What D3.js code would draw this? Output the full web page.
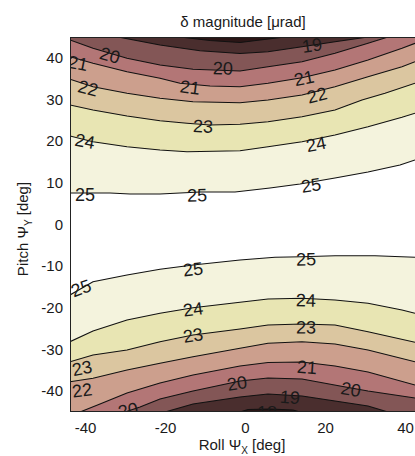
<!DOCTYPE html>
<html>
<head>
<meta charset="utf-8">
<script src="https://cdn.jsdelivr.net/npm/d3@7"></script>
<style>
  body { margin: 0; background: #fff; }
  text { font-family: "Liberation Sans", Arial, sans-serif; fill: #1a1a1a; }
</style>
</head>
<body>
<script>
// contour lines, [roll deg, pitch deg]
// upper half (values fall towards the top edge)
var top18 = [[-16.25,45],[-8.75,44.16],[-1.25,43.68],[3.75,44.28],[10,45]];
var top19 = [[-31.75,45],[-21.25,43.08],[-11.25,41.71],[-1.25,41.04],[5.75,41.47],[14.25,42.67],[22.5,43.87],[30.75,45]];
var top20 = [[-43.75,44.28],[-38,42.29],[-29.5,39.88],[-21.25,38.28],[-13,37.25],[-1.25,36.84],[5.75,37.87],[14.25,39.07],[22.5,41.08],[30.75,43.48],[35.75,45]];
var top21 = [[-43.75,40.27],[-38,38.69],[-29.5,36.67],[-21.25,35.09],[-16.25,33.89],[-8.75,33.24],[-1.25,33.07],[5.75,33.89],[14.25,35.23],[22.5,37.08],[30.75,39.48],[39.25,42.29],[42.5,43.49]];
var top22 = [[-43.75,34.85],[-38,33.07],[-29.5,31.49],[-21.25,30.29],[-13,29.47],[-1.25,29.23],[5.75,29.88],[14.25,31.08],[22.5,33.07],[30.75,35.47],[39.25,37.87],[42.5,39.07]];
var top23 = [[-43.75,28.68],[-38,27.48],[-29.5,26.04],[-21.25,24.91],[-14.5,24.29],[-8.75,23.88],[-1.25,24.05],[5.75,24.67],[14.25,25.87],[22.5,27.48],[29.25,29.88],[35,31.49],[42.5,33.89]];
var top24 = [[-43.75,21.24],[-38,19.87],[-29.5,18.67],[-21.25,17.88],[-14.5,17.47],[-1.25,17.71],[5.75,18.67],[14.25,19.87],[22.5,21.48],[30.75,23.47],[39.25,25.73],[42.5,26.69]];
var top25 = [[-43.75,7.56],[-33.75,7.56],[-28.75,7.32],[-21.25,7.32],[-11.25,7.8],[-2.5,7.8],[6.25,8.76],[13.75,9.72],[22.5,11.16],[30.75,12.6],[38.75,14.28],[42.5,15.5]];

// lower half (values fall towards the bottom edge)
var bot18 = [[-1.25,-45],[0.75,-44.4],[6.25,-44.28],[12,-44.52],[13.75,-45]];
var bot19 = [[-20,-45],[-13,-43.08],[-1.25,-41.4],[5.75,-40.68],[14.25,-41.16],[22.5,-42.36],[30.75,-43.56],[35.75,-45]];
var bot20 = [[-30,-45],[-26.25,-43.8],[-21.25,-41.88],[-13,-39.96],[-1.25,-37.56],[5.75,-36.84],[14.25,-37.08],[23.75,-38.76],[30.75,-39.96],[42.5,-41.64]];
var bot21 = [[-41.25,-45],[-36.25,-43.08],[-29.5,-40.44],[-21.25,-38.04],[-13,-36.12],[-1.25,-33.96],[5.75,-33.12],[14.25,-33],[22.5,-33.96],[30.75,-35.4],[42.5,-38.52]];
var bot22 = [[-43.75,-37.73],[-38,-36.91],[-29.5,-34.92],[-21.25,-33.31],[-13,-31.73],[-1.25,-29.71],[5.75,-28.51],[14.25,-28.13],[22.5,-28.68],[30.75,-30.12],[42.5,-32.93]];
var bot23 = [[-43.75,-32.93],[-38,-31.32],[-29.5,-30.12],[-21.25,-28.13],[-13,-26.52],[-1.25,-25.08],[5.75,-24.12],[14.25,-23.88],[22.5,-24.12],[30.75,-25.73],[42.5,-28.27]];
var bot24 = [[-43.75,-28.13],[-38,-25.56],[-29.5,-22.92],[-21.25,-21.31],[-13,-19.97],[-1.25,-18.67],[5.75,-17.88],[14.25,-17.71],[22.5,-18.12],[30.75,-18.91],[39.25,-20.52],[42.5,-21.31]];
var bot25 = [[-43.75,-16.92],[-38,-13.73],[-29.5,-12.12],[-21.25,-10.75],[-13,-9.72],[-1.25,-8.52],[7.5,-7.87],[14.25,-7.73],[22.5,-7.49],[32.5,-7.49],[42.5,-7.87]];

var levels = [18, 19, 20, 21, 22, 23, 24, 25];

// contour labels [value, roll, pitch]
var contourLabels = [
  [19, 16.75, 43.08], [20, -33.75, 40.68], [20, -5.5, 37.56], [21, -41.75, 38.76],
  [21, -13.75, 33.0], [21, 14.75, 35.16], [22, -39.25, 32.76], [22, 18, 31.08],
  [23, -10.5, 23.64], [24, -40, 20.04], [24, 17.75, 19.32],
  [25, -40, 7.08], [25, -12, 7.08], [25, 16.5, 9.48],
  [25, -41, -15.24], [25, -13, -10.68], [25, 15.25, -8.28],
  [24, -13, -20.28], [24, 15.25, -18.12],
  [23, -13, -26.52], [23, 15.25, -24.6], [23, -40.75, -34.44],
  [22, -40.75, -39.72], [21, 15.5, -34.2],
  [20, -2, -38.04], [20, 26.5, -39.48], [20, -29.25, -44.52],
  [19, 11.25, -41.4], [18, 5.5, -45]
];

var xTicks = [-40, -20, 0, 20, 40];
var yTicks = [-40, -30, -20, -10, 0, 10, 20, 30, 40];

// band fills: below 18, 18-19, ..., 24-25 (pink colormap)
var bandColors = ["#2b1616", "#4a2e2e", "#835656", "#b37676", "#cc9f8d", "#dbc6a0", "#e8e5b3", "#f4f3dd"];

var topLines = [top18, top19, top20, top21, top22, top23, top24, top25];
var botLines = [bot18, bot19, bot20, bot21, bot22, bot23, bot24, bot25];

var width = 415, height = 456;
var x = d3.scaleLinear().domain([-43.75, 42.5]).range([70, 415]);
var y = d3.scaleLinear().domain([-45, 45]).range([412, 37]);

var svg = d3.select("body").append("svg")
    .attr("width", width)
    .attr("height", height);

svg.append("clipPath").attr("id", "plotclip")
  .append("rect")
    .attr("x", x.range()[0]).attr("y", y.range()[1])
    .attr("width", x.range()[1] - x.range()[0])
    .attr("height", y.range()[0] - y.range()[1]);

var plot = svg.append("g").attr("clip-path", "url(#plotclip)");

plot.append("rect")
    .attr("x", x.range()[0]).attr("y", y.range()[1])
    .attr("width", x.range()[1] - x.range()[0])
    .attr("height", y.range()[0] - y.range()[1])
    .attr("fill", "#fff");

var line = d3.line()
    .x(function(d) { return x(d[0]); })
    .y(function(d) { return y(d[1]); });

// close a contour against the top or bottom edge
function band(pts, edge) {
  var p = pts.slice();
  p.push([pts[pts.length - 1][0], edge]);
  p.push([pts[0][0], edge]);
  return line(p) + "Z";
}

// largest region first so smaller ones sit on top
for (var i = levels.length - 1; i >= 0; i--) {
  plot.append("path").attr("d", band(topLines[i], 45)).attr("fill", bandColors[i]);
  plot.append("path").attr("d", band(botLines[i], -45)).attr("fill", bandColors[i]);
}

topLines.concat(botLines).forEach(function(pts) {
  plot.append("path")
      .attr("d", line(pts))
      .attr("fill", "none")
      .attr("stroke", "#111")
      .attr("stroke-width", 1.1);
});

function interp(pts, xv) {
  if (xv <= pts[0][0]) return pts[0][1];
  for (var k = 1; k < pts.length; k++) {
    if (xv <= pts[k][0]) {
      var t = (xv - pts[k-1][0]) / (pts[k][0] - pts[k-1][0]);
      return pts[k-1][1] + t * (pts[k][1] - pts[k-1][1]);
    }
  }
  return pts[pts.length - 1][1];
}

contourLabels.forEach(function(d) {
  var pts = (d[2] > 0 ? topLines : botLines)[levels.indexOf(d[0])];
  var x0 = d[1] - 5, x1 = d[1] + 5;
  var ang = Math.atan2(y(interp(pts, x1)) - y(interp(pts, x0)), x(x1) - x(x0)) * 180 / Math.PI;
  plot.append("text")
      .attr("transform", "translate(" + x(d[1]) + "," + y(d[2]) + ") rotate(" + ang + ")")
      .attr("text-anchor", "middle")
      .attr("dy", "0.36em")
      .style("font-size", "18px")
      .text(d[0]);
});

// axes box
svg.append("rect")
    .attr("x", x.range()[0] + 0.5).attr("y", y.range()[1] + 0.5)
    .attr("width", x.range()[1] - x.range()[0])
    .attr("height", y.range()[0] - y.range()[1] - 1)
    .attr("fill", "none")
    .attr("stroke", "#222")
    .attr("stroke-width", 1);

// plain hyphen minus, as in the original
var fmt = function(d) { return String(d); };

var gX = svg.append("g")
    .attr("transform", "translate(0," + y.range()[0] + ")")
    .call(d3.axisBottom(x).tickValues(xTicks).tickFormat(fmt).tickSize(0).tickPadding(10));
var gY = svg.append("g")
    .attr("transform", "translate(" + x.range()[0] + ",0)")
    .call(d3.axisLeft(y).tickValues(yTicks).tickFormat(fmt).tickSize(0).tickPadding(7));
[gX, gY].forEach(function(g) {
  g.select(".domain").remove();
  g.selectAll("text").style("font-size", "15px").style("font-family", "'Liberation Sans', Arial, sans-serif").attr("fill", "#1a1a1a");
});

svg.append("text")
    .attr("x", 243).attr("y", 27)
    .attr("text-anchor", "middle")
    .style("font-size", "15px")
    .text("δ magnitude [μrad]");

var xl = svg.append("text")
    .attr("x", 242).attr("y", 450)
    .attr("text-anchor", "middle")
    .style("font-size", "15px");
xl.append("tspan").text("Roll Ψ");
xl.append("tspan").attr("dy", 4).style("font-size", "10px").text("X");
xl.append("tspan").attr("dy", -4).text(" [deg]");

var yl = svg.append("text")
    .attr("transform", "translate(28,229) rotate(-90)")
    .attr("text-anchor", "middle")
    .style("font-size", "15px");
yl.append("tspan").text("Pitch Ψ");
yl.append("tspan").attr("dy", 4).style("font-size", "10px").text("Y");
yl.append("tspan").attr("dy", -4).text(" [deg]");
</script>
</body>
</html>
